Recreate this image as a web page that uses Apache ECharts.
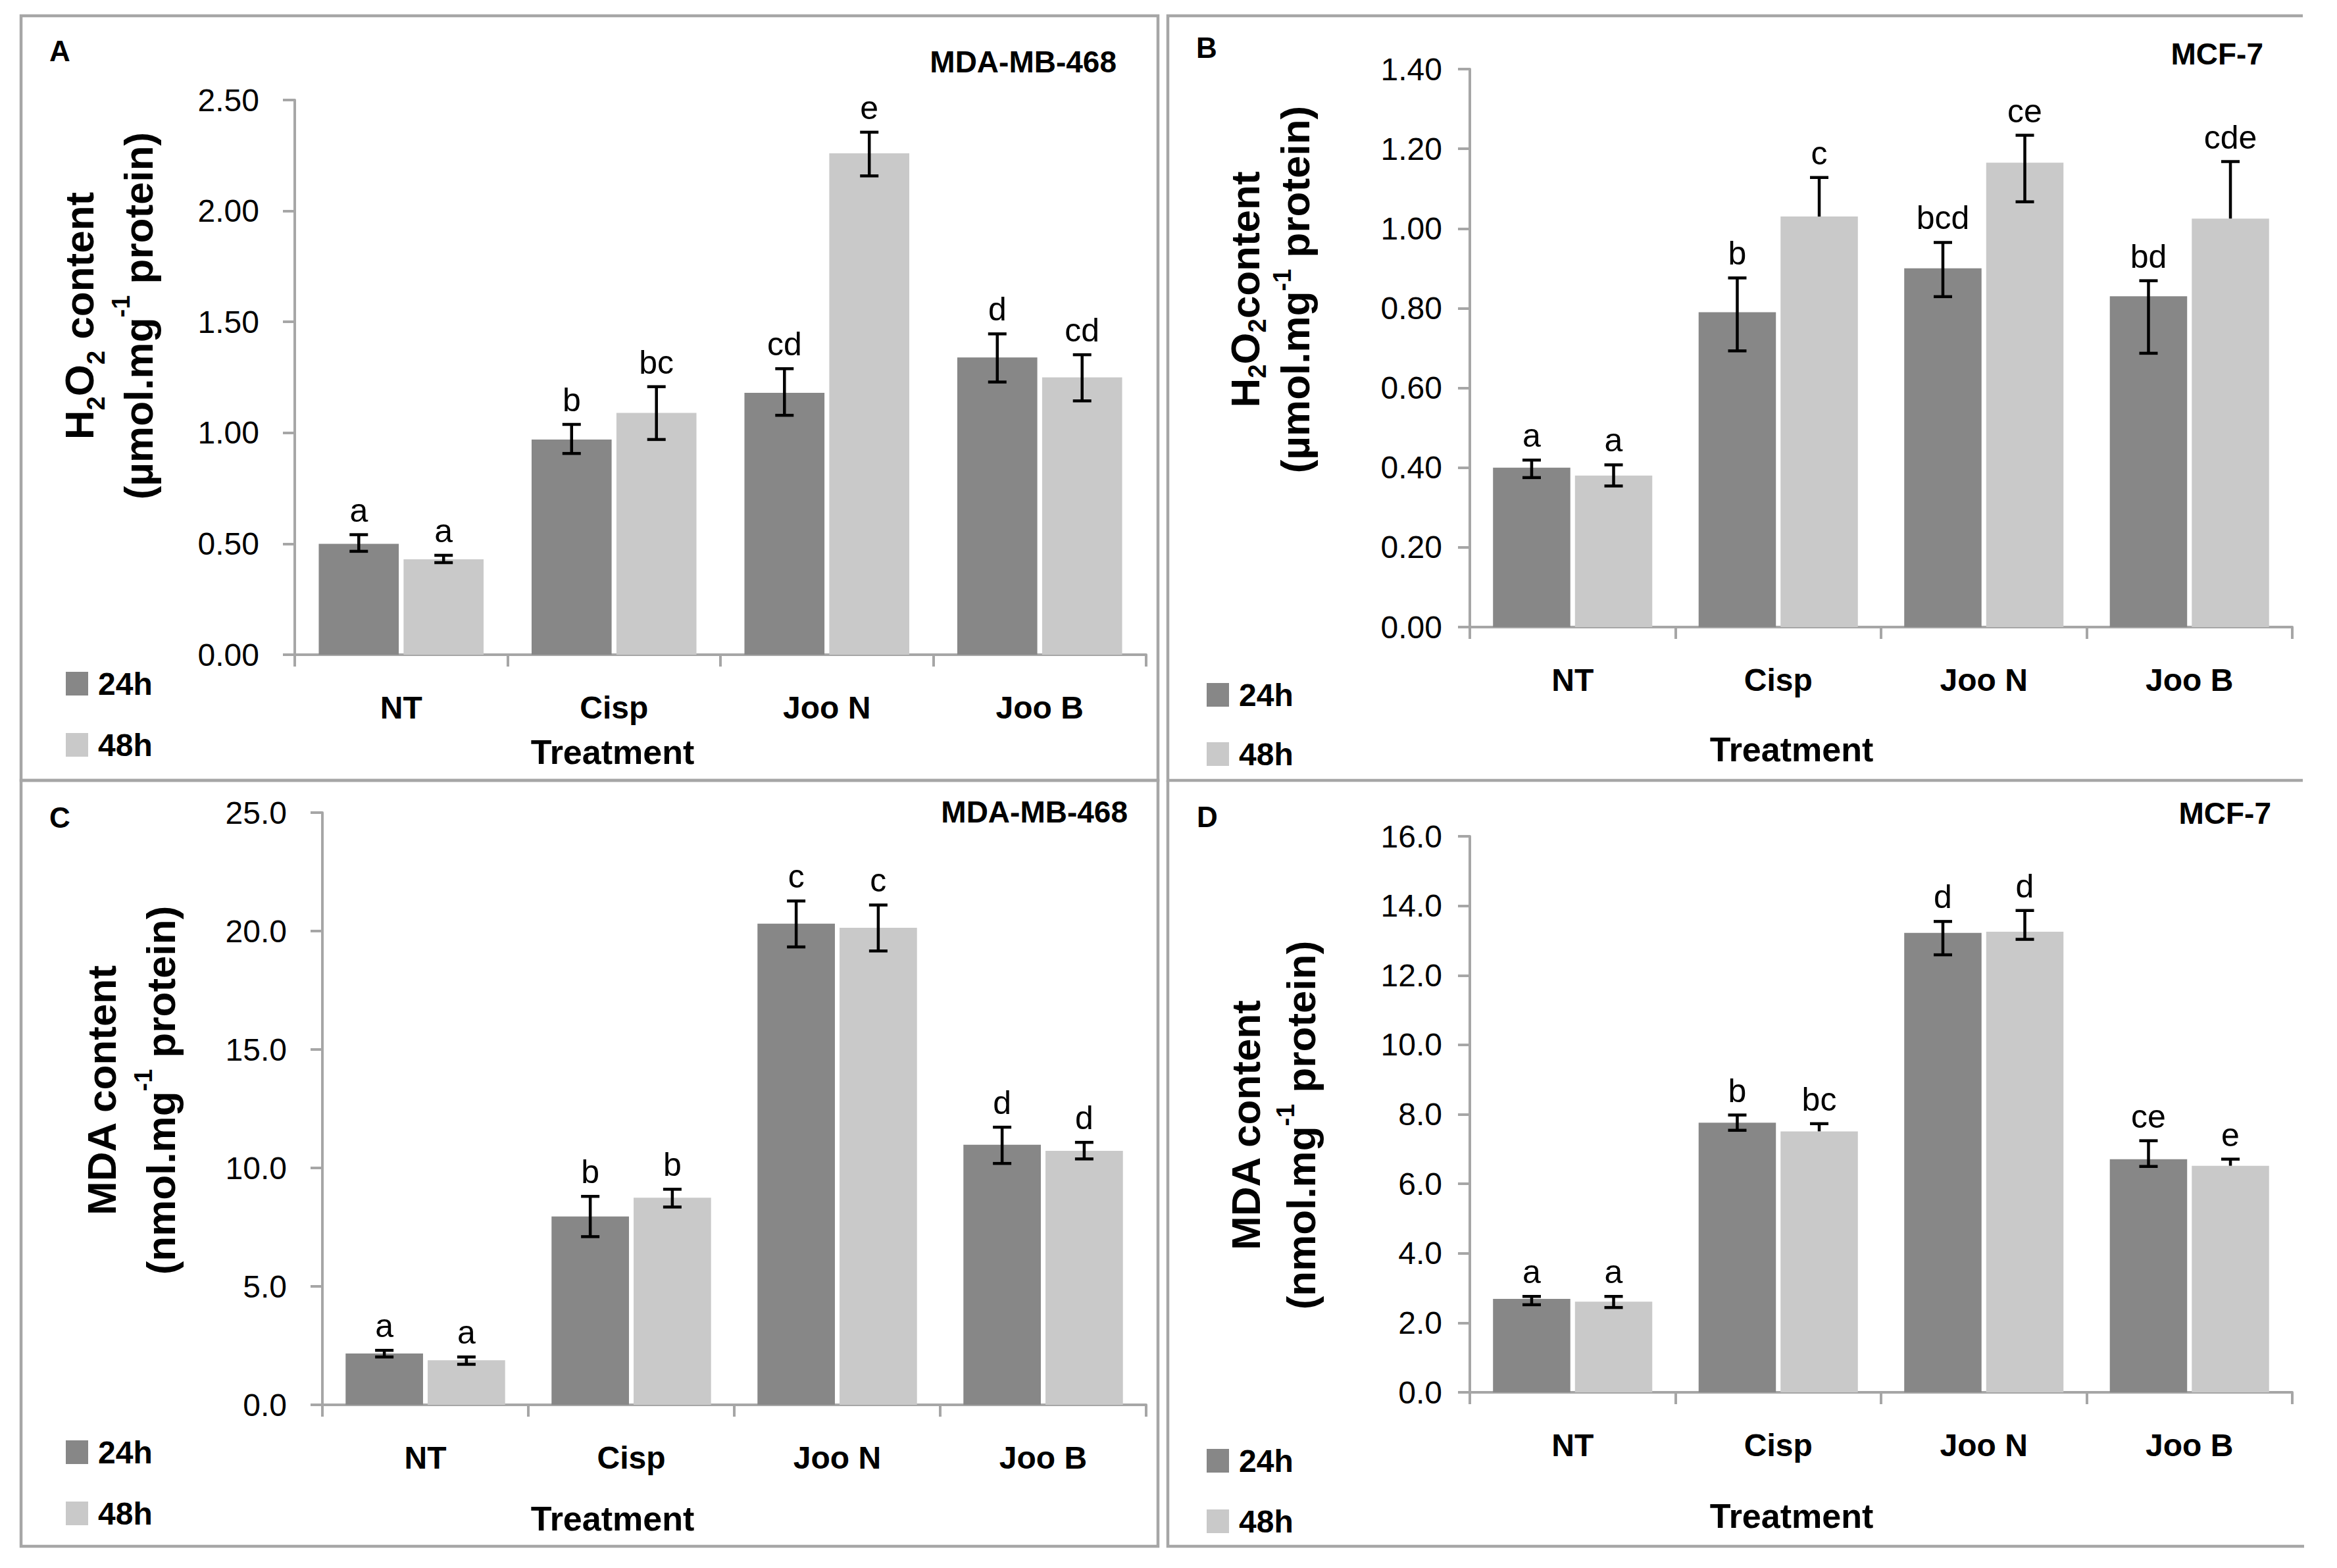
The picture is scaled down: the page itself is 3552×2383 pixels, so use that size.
<!DOCTYPE html>
<html><head><meta charset="utf-8">
<script src="https://cdn.jsdelivr.net/npm/echarts@6/dist/echarts.min.js"></script>
<style>html,body{margin:0;padding:0;background:#fff}#c{width:3552px;height:2383px}</style>
</head><body><div id="c"></div>
<script>
// ---------------- data ----------------
const categories = ['NT', 'Cisp', 'Joo N', 'Joo B'];
const legendNames = ['24h', '48h'];

// Panel A: H2O2, MDA-MB-468
const aYTicks = ['0.00', '0.50', '1.00', '1.50', '2.00', '2.50'];
const a24 = [0.50, 0.97, 1.18, 1.34];
const a48 = [0.43, 1.09, 2.26, 1.25];
const a24Up = [0.041, 0.068, 0.109, 0.106];
const a24Dn = [0.034, 0.063, 0.101, 0.111];
const a48Up = [0.018, 0.118, 0.095, 0.102];
const a48Dn = [0.015, 0.120, 0.102, 0.106];
const a24Letters = ['a', 'b', 'cd', 'd'];
const a48Letters = ['a', 'bc', 'e', 'cd'];

// Panel B: H2O2, MCF-7
const bYTicks = ['0.00', '0.20', '0.40', '0.60', '0.80', '1.00', '1.20', '1.40'];
const b24 = [0.40, 0.79, 0.90, 0.83];
const b48 = [0.38, 1.03, 1.165, 1.025];
const b24Up = [0.019, 0.086, 0.065, 0.039];
const b24Dn = [0.025, 0.097, 0.071, 0.143];
const b48Up = [0.027, 0.098, 0.069, 0.143];
const b48Dn = [0.026, 0, 0.098, 0];
const b24Letters = ['a', 'b', 'bcd', 'bd'];
const b48Letters = ['a', 'c', 'ce', 'cde'];

// Panel C: MDA, MDA-MB-468
const cYTicks = ['0.0', '5.0', '10.0', '15.0', '20.0', '25.0'];
const c24 = [2.17, 7.95, 20.31, 10.98];
const c48 = [1.88, 8.74, 20.14, 10.72];
const c24Up = [0.13, 0.85, 0.96, 0.74];
const c24Dn = [0.15, 0.85, 0.98, 0.79];
const c48Up = [0.14, 0.36, 0.96, 0.36];
const c48Dn = [0.17, 0.39, 0.98, 0.34];
const c24Letters = ['a', 'b', 'c', 'd'];
const c48Letters = ['a', 'b', 'c', 'd'];

// Panel D: MDA, MCF-7
const dYTicks = ['0.0', '2.0', '4.0', '6.0', '8.0', '10.0', '12.0', '14.0', '16.0'];
const d24 = [2.69, 7.76, 13.22, 6.71];
const d48 = [2.61, 7.51, 13.255, 6.52];
const d24Up = [0.07, 0.22, 0.33, 0.53];
const d24Dn = [0.17, 0.22, 0.63, 0.21];
const d48Up = [0.15, 0.22, 0.61, 0.19];
const d48Dn = [0.17, 0, 0.22, 0];
const d24Letters = ['a', 'b', 'd', 'ce'];
const d48Letters = ['a', 'bc', 'd', 'e'];

// ---------------- styling / layout ----------------
const FF = "'Liberation Sans', Arial, sans-serif";
const AX = '#A6A6A6';
const C24 = '#878787', C48 = '#C9C9C9';
const BAR_W = 0.376, BAR_GAP = 0.06;

const panels = [
  { grid: { left: 448, top: 152, width: 1294, height: 843 }, max: 2.5, step: 0.5, ticks: aYTicks, lblMargin: 54,
    v24: a24, v48: a48, u24: a24Up, d24: a24Dn, u48: a48Up, d48: a48Dn, l24: a24Letters, l48: a48Letters,
    leg: { left: 100, top: 1015, gap: 45 } },
  { grid: { left: 2234, top: 105, width: 1250, height: 848 }, max: 1.4, step: 0.2, ticks: bYTicks, lblMargin: 42,
    v24: b24, v48: b48, u24: b24Up, d24: b24Dn, u48: b48Up, d48: b48Dn, l24: b24Letters, l48: b48Letters,
    leg: { left: 1834, top: 1032, gap: 42 } },
  { grid: { left: 490, top: 1235, width: 1252, height: 900 }, max: 25, step: 5, ticks: cYTicks, lblMargin: 54,
    v24: c24, v48: c48, u24: c24Up, d24: c24Dn, u48: c48Up, d48: c48Dn, l24: c24Letters, l48: c48Letters,
    leg: { left: 100, top: 2183, gap: 45 } },
  { grid: { left: 2234, top: 1271, width: 1250, height: 845 }, max: 16, step: 2, ticks: dYTicks, lblMargin: 42,
    v24: d24, v48: d48, u24: d24Up, d24: d24Dn, u48: d48Up, d48: d48Dn, l24: d24Letters, l48: d48Letters,
    leg: { left: 1834, top: 2196, gap: 44 } }
];

function errSeries(k, vals, ups, dns, letters, sign) {
  return {
    type: 'custom', name: 'err' + k + sign, xAxisIndex: k, yAxisIndex: k, z: 5, silent: true, clip: false,
    data: vals.map((v, i) => [i, v, ups[i], dns[i]]),
    encode: { x: 0, y: 1 },
    renderItem: function (params, api) {
      const cat = api.value(0), v = api.value(1), up = api.value(2), dn = api.value(3);
      const c = api.coord([cat, v]);
      const catW = api.size([1, 0])[0];
      const bw = catW * BAR_W;
      const x = c[0] + sign * (bw * (1 + BAR_GAP)) / 2;
      const yTop = api.coord([cat, v + up])[1];
      const yBot = api.coord([cat, v - dn])[1];
      const ls = { stroke: '#000', lineWidth: 4.5 };
      const kids = [
        { type: 'line', shape: { x1: x, y1: yTop, x2: x, y2: yBot }, style: ls },
        { type: 'line', shape: { x1: x - 14, y1: yTop, x2: x + 14, y2: yTop }, style: ls }
      ];
      if (dn > 0) kids.push({ type: 'line', shape: { x1: x - 14, y1: yBot, x2: x + 14, y2: yBot }, style: ls });
      kids.push({ type: 'text', x: x, y: yTop - 12,
        style: { text: letters[params.dataIndex], fontSize: 50, fontFamily: FF, fill: '#000', align: 'center', verticalAlign: 'bottom' } });
      return { type: 'group', children: kids };
    }
  };
}

const grids = [], xAxes = [], yAxes = [], series = [], legends = [];
panels.forEach((p, k) => {
  grids.push(Object.assign({ containLabel: false }, p.grid));
  xAxes.push({
    type: 'category', gridIndex: k, data: categories, boundaryGap: true,
    axisLine: { show: true, lineStyle: { color: AX, width: 4 } },
    axisTick: { show: true, alignWithLabel: false, length: 18, lineStyle: { color: AX, width: 4 } },
    axisLabel: { show: true, interval: 0, margin: 56, color: '#000', fontSize: 48, fontWeight: 'bold', fontFamily: FF },
    splitLine: { show: false }
  });
  yAxes.push({
    type: 'value', gridIndex: k, min: 0, max: p.max, interval: p.step,
    axisLine: { show: true, lineStyle: { color: AX, width: 4 } },
    axisTick: { show: true, length: 18, lineStyle: { color: AX, width: 4 } },
    axisLabel: { show: true, margin: p.lblMargin, color: '#000', fontSize: 48, fontFamily: FF,
      formatter: (function (t) { return function (val, idx) { return t[idx]; }; })(p.ticks) },
    splitLine: { show: false }
  });
  series.push({ type: 'bar', name: legendNames[0], xAxisIndex: k, yAxisIndex: k, data: p.v24,
    barWidth: (BAR_W * 100) + '%', barGap: (BAR_GAP * 100) + '%', itemStyle: { color: C24 } });
  series.push({ type: 'bar', name: legendNames[1], xAxisIndex: k, yAxisIndex: k, data: p.v48,
    barWidth: (BAR_W * 100) + '%', barGap: (BAR_GAP * 100) + '%', itemStyle: { color: C48 } });
  series.push(errSeries(k, p.v24, p.u24, p.d24, p.l24, -1));
  series.push(errSeries(k, p.v48, p.u48, p.d48, p.l48, 1));
  legends.push({
    data: legendNames, orient: 'vertical', left: p.leg.left, top: p.leg.top, padding: 0,
    itemWidth: 34, itemHeight: 36, itemGap: p.leg.gap, icon: 'rect', selectedMode: false,
    textStyle: { fontSize: 48, fontWeight: 'bold', fontFamily: FF, color: '#000', lineHeight: 36, padding: [0, 0, 0, 10] }
  });
});

function yTitle(x, y, l1, l2, lh) {
  return {
    type: 'text', x: x, y: y, rotation: Math.PI / 2, silent: true,
    style: {
      text: l1 + '\n' + l2, align: 'center', verticalAlign: 'middle',
      rich: {
        b: { fontSize: 62, fontWeight: 'bold', fontFamily: FF, fill: '#000', lineHeight: lh },
        s: { fontSize: 38, fontWeight: 'bold', fontFamily: FF, fill: '#000', lineHeight: 50, verticalAlign: 'bottom' },
        p: { fontSize: 38, fontWeight: 'bold', fontFamily: FF, fill: '#000', lineHeight: 44, verticalAlign: 'top' }
      }
    }
  };
}
function txt(x, y, s, size, align, weight) {
  return { type: 'text', x: x, y: y, silent: true,
    style: { text: s, fontSize: size, fontWeight: weight || 'bold', fontFamily: FF, fill: '#000', align: align || 'center', verticalAlign: 'middle' } };
}
const frameStyle = { stroke: AX, lineWidth: 4.5, fill: null };
const graphics = [
  { type: 'rect', shape: { x: 32, y: 24, width: 1728, height: 1162 }, style: frameStyle, silent: true },
  { type: 'rect', shape: { x: 32, y: 1186, width: 1728, height: 1164 }, style: frameStyle, silent: true },
  { type: 'polyline', shape: { points: [[3500, 24], [1775, 24], [1775, 1186], [3500, 1186]] }, style: frameStyle, silent: true },
  { type: 'polyline', shape: { points: [[1775, 1186], [1775, 2350], [3502, 2350]] }, style: frameStyle, silent: true },
  txt(91, 77, 'A', 44), txt(1834, 72, 'B', 44), txt(91, 1242, 'C', 44), txt(1835, 1241, 'D', 44),
  txt(1697, 94, 'MDA-MB-468', 46, 'right'), txt(3440, 82, 'MCF-7', 46, 'right'),
  txt(1714, 1234, 'MDA-MB-468', 46, 'right'), txt(3452, 1236, 'MCF-7', 46, 'right'),
  txt(931, 1143, 'Treatment', 52), txt(2723, 1139, 'Treatment', 52),
  txt(931, 2308, 'Treatment', 52), txt(2723, 2304, 'Treatment', 52),
  yTitle(165, 480, '{b|H}{s|2}{b|O}{s|2}{b| content}', '{b|(µmol.mg}{p|-1}{b| protein)}', 90),
  yTitle(1930, 440, '{b|H}{s|2}{b|O}{s|2}{b|content}', '{b|(µmol.mg}{p|-1}{b| protein)}', 76),
  yTitle(199, 1657, '{b|MDA content}', '{b|(nmol.mg}{p|-1}{b| protein)}', 90),
  yTitle(1935, 1710, '{b|MDA content}', '{b|(nmol.mg}{p|-1}{b| protein)}', 84)
];

const chart = echarts.init(document.getElementById('c'), null, { renderer: 'svg', width: 3552, height: 2383 });
chart.setOption({
  backgroundColor: '#fff', animation: false,
  grid: grids, xAxis: xAxes, yAxis: yAxes, series: series, legend: legends,
  graphic: graphics
});
</script></body></html>
